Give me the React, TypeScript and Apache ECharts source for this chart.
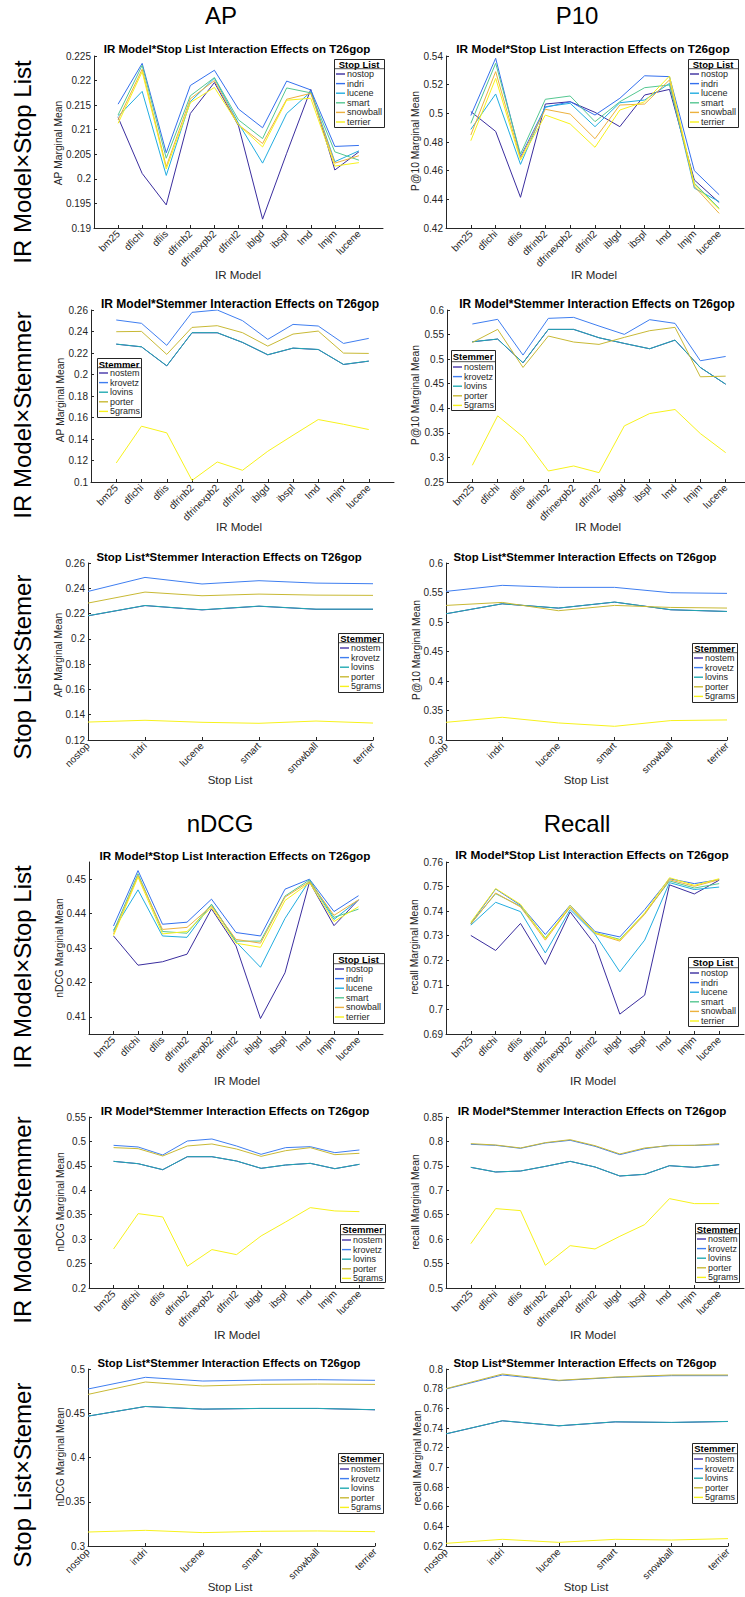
import { useEffect, useRef } from 'react';
import * as echarts from 'echarts';

const FONT = '"Liberation Sans", Arial, Helvetica, sans-serif';
const INK = '#262626';

// ---------- categories ----------
const irModels = ['bm25', 'dfichi', 'dfiis', 'dfrinb2', 'dfrinexpb2', 'dfrinl2', 'iblgd', 'ibspl', 'lmd', 'lmjm', 'lucene'];
const irTickPositions = [1, 2, 3, 4, 5, 6, 7, 8, 9, 10, 11];
const stopLists = ['nostop', 'indri', 'lucene', 'smart', 'snowball', 'terrier'];
const stemmers = ['nostem', 'krovetz', 'lovins', 'porter', '5grams'];

const stopColors = ['#3a2d9e', '#3470ee', '#22ade0', '#55c791', '#ecb13e', '#f7f21c'];
const stemColors = ['#4434a8', '#3f7ef0', '#22aab2', '#c8b935', '#f7f21c'];

// ---------- AP ----------
const apIrStop = [
  [0.2125, 0.2011, 0.1947, 0.2133, 0.2196, 0.2108, 0.1918, 0.2052, 0.2182, 0.2018, 0.2055],
  [0.2152, 0.2235, 0.2053, 0.2190, 0.2221, 0.2142, 0.2104, 0.2199, 0.2181, 0.2066, 0.2068],
  [0.2127, 0.2178, 0.2007, 0.2157, 0.2205, 0.2113, 0.2032, 0.2133, 0.2177, 0.2035, 0.2057],
  [0.2130, 0.2231, 0.2042, 0.2169, 0.2206, 0.2120, 0.2082, 0.2185, 0.2175, 0.2055, 0.2038],
  [0.2120, 0.2223, 0.2025, 0.2163, 0.2200, 0.2110, 0.2072, 0.2162, 0.2174, 0.2032, 0.2047],
  [0.2113, 0.2218, 0.2020, 0.2155, 0.2186, 0.2110, 0.2065, 0.2160, 0.2164, 0.2026, 0.2033],
];
const apIrStem = [
  [0.2282, 0.2257, 0.2080, 0.2388, 0.2388, 0.2298, 0.2183, 0.2245, 0.2232, 0.2093, 0.2124],
  [0.2507, 0.2476, 0.2271, 0.2578, 0.2600, 0.2501, 0.2327, 0.2466, 0.2451, 0.2289, 0.2336],
  [0.2283, 0.2258, 0.2081, 0.2389, 0.2389, 0.2299, 0.2184, 0.2246, 0.2233, 0.2094, 0.2125],
  [0.2398, 0.2401, 0.2187, 0.2438, 0.2454, 0.2389, 0.2264, 0.2376, 0.2404, 0.2199, 0.2196],
  [0.1177, 0.1519, 0.1457, 0.1015, 0.1186, 0.1109, 0.1286, 0.1435, 0.1581, 0.1537, 0.1488],
];
const apStopStem = [
  [0.2182, 0.2263, 0.2229, 0.2258, 0.2234, 0.2234],
  [0.2375, 0.2486, 0.2434, 0.2460, 0.2441, 0.2436],
  [0.2183, 0.2264, 0.2230, 0.2259, 0.2235, 0.2235],
  [0.2283, 0.2370, 0.2341, 0.2354, 0.2346, 0.2344],
  [0.1342, 0.1356, 0.1340, 0.1332, 0.1350, 0.1334],
];

// ---------- P10 ----------
const p10IrStop = [
  [0.5012, 0.4874, 0.4414, 0.5065, 0.5081, 0.5007, 0.4907, 0.5128, 0.5167, 0.4535, 0.4378],
  [0.4985, 0.5384, 0.4698, 0.5042, 0.5081, 0.4988, 0.5105, 0.5262, 0.5256, 0.4600, 0.4432],
  [0.4888, 0.5135, 0.4644, 0.5046, 0.5070, 0.4907, 0.5074, 0.5093, 0.5209, 0.4478, 0.4384],
  [0.4930, 0.5349, 0.4716, 0.5098, 0.5121, 0.4942, 0.5081, 0.5179, 0.5198, 0.4513, 0.4337],
  [0.4849, 0.5291, 0.4686, 0.5028, 0.4995, 0.4823, 0.5058, 0.5065, 0.5233, 0.4490, 0.4302],
  [0.4809, 0.5244, 0.4674, 0.4988, 0.4926, 0.4763, 0.5023, 0.5081, 0.5260, 0.4502, 0.4330],
];
const p10IrStem = [
  [0.5353, 0.5408, 0.4925, 0.5605, 0.5605, 0.5435, 0.5319, 0.5211, 0.5387, 0.4830, 0.4490],
  [0.5715, 0.5810, 0.5083, 0.5830, 0.5850, 0.5674, 0.5504, 0.5803, 0.5728, 0.4967, 0.5055],
  [0.5354, 0.5409, 0.4926, 0.5606, 0.5606, 0.5436, 0.5320, 0.5212, 0.5388, 0.4831, 0.4491],
  [0.5340, 0.5606, 0.4831, 0.5470, 0.5348, 0.5300, 0.5443, 0.5579, 0.5647, 0.4641, 0.4654],
  [0.2840, 0.3846, 0.3418, 0.2724, 0.2826, 0.2690, 0.3642, 0.3893, 0.3975, 0.3486, 0.3098],
];
const p10StopStem = [
  [0.5139, 0.5308, 0.5235, 0.5337, 0.5207, 0.5178],
  [0.5519, 0.5621, 0.5587, 0.5587, 0.5496, 0.5485],
  [0.5140, 0.5309, 0.5236, 0.5338, 0.5208, 0.5179],
  [0.5281, 0.5332, 0.5191, 0.5281, 0.5247, 0.5236],
  [0.3300, 0.3385, 0.3289, 0.3232, 0.3329, 0.3340],
];

// ---------- nDCG ----------
const ndcgIrStop = [
  [0.4335, 0.4250, 0.4260, 0.4282, 0.4414, 0.4306, 0.4095, 0.4228, 0.4492, 0.4365, 0.4440],
  [0.4364, 0.4525, 0.4369, 0.4375, 0.4442, 0.4345, 0.4335, 0.4471, 0.4500, 0.4406, 0.4452],
  [0.4352, 0.4469, 0.4335, 0.4331, 0.4427, 0.4318, 0.4244, 0.4386, 0.4496, 0.4383, 0.4440],
  [0.4348, 0.4516, 0.4348, 0.4343, 0.4427, 0.4320, 0.4320, 0.4451, 0.4498, 0.4389, 0.4413],
  [0.4341, 0.4510, 0.4354, 0.4360, 0.4422, 0.4325, 0.4314, 0.4448, 0.4493, 0.4395, 0.4440],
  [0.4336, 0.4506, 0.4341, 0.4348, 0.4418, 0.4314, 0.4302, 0.4438, 0.4490, 0.4377, 0.4420],
];
const ndcgIrStem = [
  [0.4592, 0.4544, 0.4421, 0.4687, 0.4687, 0.4599, 0.4449, 0.4517, 0.4551, 0.4442, 0.4531],
  [0.4920, 0.4886, 0.4722, 0.5009, 0.5050, 0.4907, 0.4736, 0.4873, 0.4893, 0.4770, 0.4825],
  [0.4593, 0.4545, 0.4422, 0.4688, 0.4688, 0.4600, 0.4450, 0.4518, 0.4552, 0.4443, 0.4532],
  [0.4873, 0.4852, 0.4702, 0.4907, 0.4948, 0.4845, 0.4695, 0.4811, 0.4873, 0.4729, 0.4757],
  [0.2799, 0.3522, 0.3454, 0.2445, 0.2786, 0.2683, 0.3065, 0.3352, 0.3645, 0.3577, 0.3563],
];
const ndcgStopStem = [
  [0.4467, 0.4576, 0.4546, 0.4554, 0.4554, 0.4539],
  [0.4774, 0.4906, 0.4864, 0.4875, 0.4879, 0.4872],
  [0.4468, 0.4577, 0.4547, 0.4555, 0.4555, 0.4540],
  [0.4713, 0.4853, 0.4808, 0.4826, 0.4830, 0.4826],
  [0.3158, 0.3177, 0.3151, 0.3166, 0.3170, 0.3162],
];

// ---------- Recall ----------
const recallIrStop = [
  [0.7301, 0.7240, 0.7350, 0.7183, 0.7397, 0.7264, 0.6981, 0.7058, 0.7507, 0.7470, 0.7526],
  [0.7350, 0.7490, 0.7424, 0.7305, 0.7424, 0.7317, 0.7295, 0.7406, 0.7532, 0.7512, 0.7528],
  [0.7343, 0.7436, 0.7398, 0.7230, 0.7406, 0.7306, 0.7153, 0.7282, 0.7516, 0.7488, 0.7498],
  [0.7350, 0.7471, 0.7420, 0.7291, 0.7415, 0.7312, 0.7285, 0.7390, 0.7523, 0.7494, 0.7512],
  [0.7347, 0.7474, 0.7417, 0.7282, 0.7417, 0.7309, 0.7278, 0.7387, 0.7528, 0.7501, 0.7528],
  [0.7355, 0.7492, 0.7428, 0.7287, 0.7423, 0.7312, 0.7282, 0.7393, 0.7536, 0.7505, 0.7532],
];
const recallIrStem = [
  [0.7469, 0.7374, 0.7394, 0.7489, 0.7592, 0.7476, 0.7292, 0.7326, 0.7503, 0.7469, 0.7524],
  [0.7941, 0.7920, 0.7859, 0.7968, 0.8023, 0.7900, 0.7729, 0.7852, 0.7920, 0.7920, 0.7934],
  [0.7470, 0.7375, 0.7395, 0.7490, 0.7593, 0.7477, 0.7293, 0.7327, 0.7504, 0.7470, 0.7525],
  [0.7954, 0.7927, 0.7866, 0.7975, 0.8036, 0.7913, 0.7743, 0.7866, 0.7913, 0.7920, 0.7954],
  [0.5908, 0.6625, 0.6584, 0.5465, 0.5867, 0.5799, 0.6058, 0.6297, 0.6829, 0.6727, 0.6727],
];
const recallStopStem = [
  [0.7340, 0.7473, 0.7422, 0.7462, 0.7456, 0.7466],
  [0.7796, 0.7939, 0.7881, 0.7915, 0.7932, 0.7932],
  [0.7341, 0.7474, 0.7423, 0.7463, 0.7457, 0.7467],
  [0.7800, 0.7949, 0.7885, 0.7918, 0.7939, 0.7939],
  [0.6227, 0.6268, 0.6237, 0.6268, 0.6261, 0.6275],
];

// ---------- y tick labels ----------
const ticksApIrStop = [0.19, 0.195, 0.2, 0.205, 0.21, 0.215, 0.22, 0.225];
const ticksP10IrStop = [0.42, 0.44, 0.46, 0.48, 0.5, 0.52, 0.54];
const ticksApIrStem = [0.1, 0.12, 0.14, 0.16, 0.18, 0.2, 0.22, 0.24, 0.26];
const ticksP10IrStem = [0.25, 0.3, 0.35, 0.4, 0.45, 0.5, 0.55, 0.6];
const ticksApStopStem = [0.12, 0.14, 0.16, 0.18, 0.2, 0.22, 0.24, 0.26];
const ticksP10StopStem = [0.3, 0.35, 0.4, 0.45, 0.5, 0.55, 0.6];
const ticksNdcgIrStop = [0.41, 0.42, 0.43, 0.44, 0.45];
const ticksRecallIrStop = [0.69, 0.7, 0.71, 0.72, 0.73, 0.74, 0.75, 0.76];
const ticksNdcgIrStem = [0.2, 0.25, 0.3, 0.35, 0.4, 0.45, 0.5, 0.55];
const ticksRecallIrStem = [0.5, 0.55, 0.6, 0.65, 0.7, 0.75, 0.8, 0.85];
const ticksNdcgStopStem = [0.3, 0.35, 0.4, 0.45, 0.5];
const ticksRecallStopStem = [0.62, 0.64, 0.66, 0.68, 0.7, 0.72, 0.74, 0.76, 0.78, 0.8];

const headers = [
  { text: 'AP', x: 221, y: 15 },
  { text: 'P10', x: 577, y: 15 },
  { text: 'nDCG', x: 220, y: 823 },
  { text: 'Recall', x: 577, y: 823 },
];
const rowLabels = [
  { text: 'IR Model×Stop List', y: 162 },
  { text: 'IR Model×Stemmer', y: 415 },
  { text: 'Stop List×Stemer', y: 667 },
  { text: 'IR Model×Stop List', y: 967 },
  { text: 'IR Model×Stemmer', y: 1220 },
  { text: 'Stop List×Stemer', y: 1475 },
];

const T_STOP = 'IR Model*Stop List Interaction Effects on T26gop';
const T_STEM = 'IR Model*Stemmer Interaction Effects on T26gop';
const T_SS = 'Stop List*Stemmer Interaction Effects on T26gop';

type Panel = {
  data: number[][];
  ticks: number[];
  yMin: number;
  yMax: number;
  xKind: 'ir' | 'stop';
  group: 'stop' | 'stem';
  grid: [number, number, number, number];
  title: string;
  titleAt: [number, number];
  titleSize: number;
  yName: string;
  yNameAt: [number, number];
  xName: string;
  xNameAt: [number, number];
  box: [number, number, number, number];
  legendTitleY: number;
  firstItemY: number;
};

const panels: Panel[] = [
  { data: apIrStop, ticks: ticksApIrStop, yMin: 0.19, yMax: 0.225, xKind: 'ir', group: 'stop', grid: [94, 56, 289, 172], title: T_STOP, titleAt: [237, 49], titleSize: 11.5, yName: 'AP Marginal Mean', yNameAt: [58, 143], xName: 'IR Model', xNameAt: [238, 275], box: [334, 59, 384, 127], legendTitleY: 64, firstItemY: 74 },
  { data: p10IrStop, ticks: ticksP10IrStop, yMin: 0.42, yMax: 0.54, xKind: 'ir', group: 'stop', grid: [446, 56, 298, 172], title: T_STOP, titleAt: [593, 49], titleSize: 11.8, yName: 'P@10 Marginal Mean', yNameAt: [415, 141], xName: 'IR Model', xNameAt: [594, 275], box: [688, 59, 738, 127], legendTitleY: 64, firstItemY: 74 },
  { data: apIrStem, ticks: ticksApIrStem, yMin: 0.1, yMax: 0.26, xKind: 'ir', group: 'stem', grid: [91, 310, 303, 172], title: T_STEM, titleAt: [240, 304], titleSize: 12, yName: 'AP Marginal Mean', yNameAt: [60, 400], xName: 'IR Model', xNameAt: [239, 527], box: [97, 358, 141, 417], legendTitleY: 364, firstItemY: 373 },
  { data: p10IrStem, ticks: ticksP10IrStem, yMin: 0.25, yMax: 0.6, xKind: 'ir', group: 'stem', grid: [447, 310, 304, 172], title: T_STEM, titleAt: [597, 304], titleSize: 11.9, yName: 'P@10 Marginal Mean', yNameAt: [415, 395], xName: 'IR Model', xNameAt: [598, 527], box: [451, 350, 495, 410], legendTitleY: 356, firstItemY: 367 },
  { data: apStopStem, ticks: ticksApStopStem, yMin: 0.12, yMax: 0.26, xKind: 'stop', group: 'stem', grid: [88, 563, 285, 177], title: T_SS, titleAt: [229, 557], titleSize: 11.4, yName: 'AP Marginal Mean', yNameAt: [58, 655], xName: 'Stop List', xNameAt: [230, 780], box: [338, 633, 383, 692], legendTitleY: 638, firstItemY: 648 },
  { data: p10StopStem, ticks: ticksP10StopStem, yMin: 0.3, yMax: 0.6, xKind: 'stop', group: 'stem', grid: [446, 563, 281, 177], title: T_SS, titleAt: [585, 557], titleSize: 11.3, yName: 'P@10 Marginal Mean', yNameAt: [416, 650], xName: 'Stop List', xNameAt: [586, 780], box: [692, 643, 737, 702], legendTitleY: 648, firstItemY: 658 },
  { data: ndcgIrStop, ticks: ticksNdcgIrStop, yMin: 0.405, yMax: 0.455, xKind: 'ir', group: 'stop', grid: [89, 862, 294, 172], title: T_STOP, titleAt: [235, 855], titleSize: 11.7, yName: 'nDCG Marginal Mean', yNameAt: [59, 948], xName: 'IR Model', xNameAt: [237, 1081], box: [333, 953, 384, 1023], legendTitleY: 959, firstItemY: 969 },
  { data: recallIrStop, ticks: ticksRecallIrStop, yMin: 0.69, yMax: 0.76, xKind: 'ir', group: 'stop', grid: [446, 862, 298, 172], title: T_STOP, titleAt: [592, 855], titleSize: 11.8, yName: 'recall Marginal Mean', yNameAt: [414, 947], xName: 'IR Model', xNameAt: [593, 1081], box: [688, 957, 738, 1026], legendTitleY: 962, firstItemY: 973 },
  { data: ndcgIrStem, ticks: ticksNdcgIrStem, yMin: 0.2, yMax: 0.55, xKind: 'ir', group: 'stem', grid: [89, 1117, 295, 171], title: T_STEM, titleAt: [235, 1110], titleSize: 11.6, yName: 'nDCG Marginal Mean', yNameAt: [60, 1202], xName: 'IR Model', xNameAt: [237, 1335], box: [340, 1224, 385, 1282], legendTitleY: 1229, firstItemY: 1240 },
  { data: recallIrStem, ticks: ticksRecallIrStem, yMin: 0.5, yMax: 0.85, xKind: 'ir', group: 'stem', grid: [446, 1117, 298, 171], title: T_STEM, titleAt: [592, 1110], titleSize: 11.6, yName: 'recall Marginal Mean', yNameAt: [415, 1202], xName: 'IR Model', xNameAt: [593, 1335], box: [695, 1223, 739, 1282], legendTitleY: 1229, firstItemY: 1239 },
  { data: ndcgStopStem, ticks: ticksNdcgStopStem, yMin: 0.3, yMax: 0.5, xKind: 'stop', group: 'stem', grid: [88, 1369, 287, 177], title: T_SS, titleAt: [229, 1363], titleSize: 11.3, yName: 'nDCG Marginal Mean', yNameAt: [60, 1457], xName: 'Stop List', xNameAt: [230, 1587], box: [338, 1453, 383, 1513], legendTitleY: 1458, firstItemY: 1469 },
  { data: recallStopStem, ticks: ticksRecallStopStem, yMin: 0.62, yMax: 0.8, xKind: 'stop', group: 'stem', grid: [446, 1369, 282, 177], title: T_SS, titleAt: [585, 1363], titleSize: 11.3, yName: 'recall Marginal Mean', yNameAt: [417, 1458], xName: 'Stop List', xNameAt: [586, 1587], box: [692, 1443, 737, 1503], legendTitleY: 1448, firstItemY: 1459 },
];

const ITEM_H = 9.6;

function buildOption() {
  const grid: any[] = [];
  const xAxis: any[] = [];
  const yAxis: any[] = [];
  const series: any[] = [];
  const legend: any[] = [];
  const elements: any[] = [];

  panels.forEach((p, i) => {
    grid.push({ left: p.grid[0], top: p.grid[1], width: p.grid[2], height: p.grid[3], containLabel: false, outerBoundsMode: 'none' });

    const axisLine = { show: true, onZero: false, lineStyle: { color: INK, width: 1 } };
    const axisLabelBase = { color: INK, fontSize: 10, fontFamily: FONT };

    if (p.xKind === 'ir') {
      xAxis.push({
        gridIndex: i, type: 'value', min: 0, max: 12, interval: 1,
        axisLine,
        axisTick: { show: true, inside: true, length: 3, lineStyle: { color: INK }, customValues: irTickPositions },
        axisLabel: {
          ...axisLabelBase, rotate: 45, margin: 4, customValues: irTickPositions,
          formatter: (v: number) => irModels[Math.round(v) - 1] ?? '',
        },
        splitLine: { show: false },
      });
    } else {
      xAxis.push({
        gridIndex: i, type: 'category', data: stopLists, boundaryGap: false,
        axisLine,
        axisTick: { show: true, inside: true, length: 3, lineStyle: { color: INK } },
        axisLabel: { ...axisLabelBase, rotate: 45, margin: 4, interval: 0 },
        splitLine: { show: false },
      });
    }

    yAxis.push({
      gridIndex: i, type: 'value', min: p.yMin, max: p.yMax,
      axisLine,
      axisTick: { show: true, inside: true, length: 3, lineStyle: { color: INK }, customValues: p.ticks },
      axisLabel: { ...axisLabelBase, margin: 3, customValues: p.ticks, showMinLabel: true, showMaxLabel: true },
      splitLine: { show: false },
    });

    const names = p.group === 'stop' ? stopLists : stemmers;
    const colors = p.group === 'stop' ? stopColors : stemColors;
    names.forEach((name, k) => {
      const vals = p.data[k];
      series.push({
        type: 'line', name, xAxisIndex: i, yAxisIndex: i,
        data: p.xKind === 'ir' ? vals.map((v, j) => [j + 1, v]) : vals,
        symbol: 'none', silent: true, z: 2,
        color: colors[k],
        lineStyle: { width: 1, color: colors[k] },
        itemStyle: { color: colors[k] },
      });
    });

    legend.push({
      orient: 'vertical', left: p.box[0] + 2, top: p.firstItemY - ITEM_H / 2,
      data: names, icon: 'rect', itemWidth: 9, itemHeight: 1.4, itemGap: 0, padding: 0,
      selectedMode: false, z: 30,
      textStyle: { fontSize: 9, lineHeight: ITEM_H, color: INK, fontFamily: FONT, padding: [0, 0, 0, -3] },
    });

    // titles and axis names
    elements.push({ type: 'text', x: p.titleAt[0], y: p.titleAt[1], style: { text: p.title, fill: '#000', fontSize: p.titleSize, fontWeight: 'bold', fontFamily: FONT, align: 'center', verticalAlign: 'middle' } });
    elements.push({ type: 'text', x: p.xNameAt[0], y: p.xNameAt[1], style: { text: p.xName, fill: INK, fontSize: 11.5, fontFamily: FONT, align: 'center', verticalAlign: 'middle' } });
    elements.push({ type: 'text', x: p.yNameAt[0], y: p.yNameAt[1], rotation: Math.PI / 2, style: { text: p.yName, fill: INK, fontSize: 10.3, fontFamily: FONT, align: 'center', verticalAlign: 'middle' } });

    // legend frame
    const [bx1, by1, bx2, by2] = p.box;
    elements.push({ type: 'rect', z: 20, shape: { x: bx1 + 0.5, y: by1 + 0.5, width: bx2 - bx1, height: by2 - by1 }, style: { fill: '#fff', stroke: INK, lineWidth: 1 } });
    elements.push({ type: 'text', z: 21, x: (bx1 + bx2) / 2, y: p.legendTitleY, style: { text: p.group === 'stop' ? 'Stop List' : 'Stemmer', fill: '#000', fontSize: 9.5, fontWeight: 'bold', fontFamily: FONT, align: 'center', verticalAlign: 'middle' } });
    const sepY = p.firstItemY - 5.3;
    elements.push({ type: 'line', z: 21, shape: { x1: bx1 + 0.5, y1: sepY, x2: bx2 + 0.5, y2: sepY }, style: { stroke: INK, lineWidth: 0.8 } });
  });

  headers.forEach((h) => {
    elements.push({ type: 'text', x: h.x, y: h.y, style: { text: h.text, fill: '#000', fontSize: 24, fontFamily: FONT, align: 'center', verticalAlign: 'middle' } });
  });
  rowLabels.forEach((r) => {
    elements.push({ type: 'text', x: 22, y: r.y, rotation: Math.PI / 2, style: { text: r.text, fill: '#000', fontSize: 24, fontFamily: FONT, align: 'center', verticalAlign: 'middle' } });
  });

  return {
    animation: false,
    backgroundColor: '#fff',
    textStyle: { fontFamily: FONT },
    grid, xAxis, yAxis, series, legend,
    graphic: { elements },
  };
}

export default function App() {
  const ref = useRef<HTMLDivElement>(null);
  useEffect(() => {
    if (!ref.current) return;
    const chart = echarts.init(ref.current, undefined, { renderer: 'svg' });
    chart.setOption(buildOption() as any);
    return () => chart.dispose();
  }, []);
  return <div ref={ref} style={{ position: 'absolute', left: 0, top: 0, width: 745, height: 1597 }} />;
}
